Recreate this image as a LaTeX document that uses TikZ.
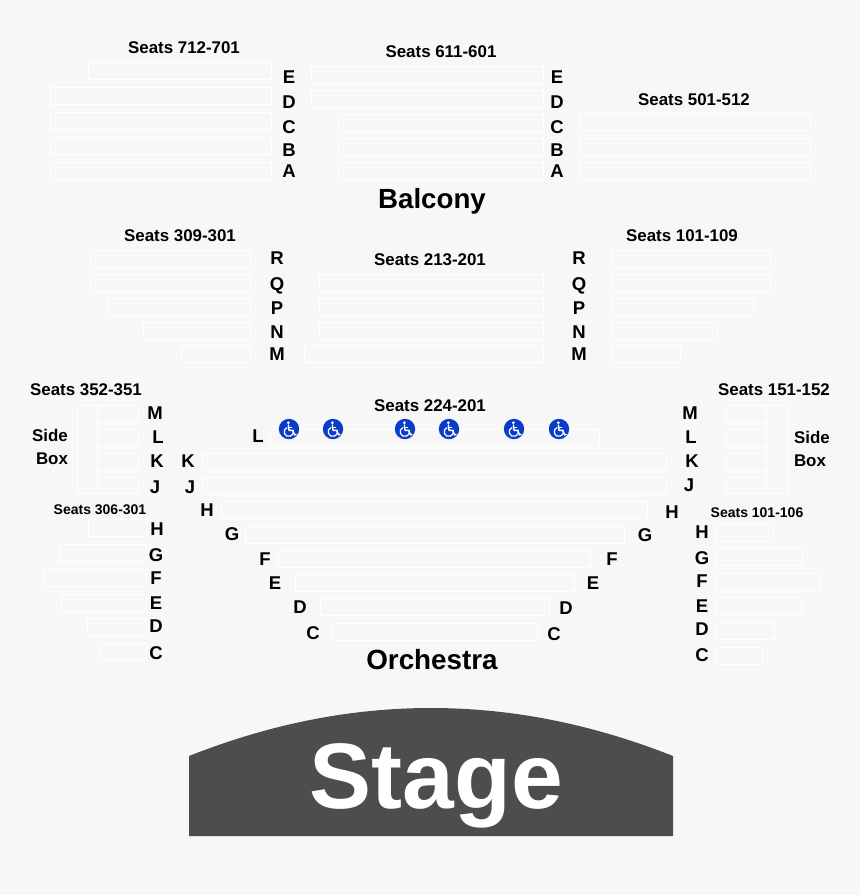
\documentclass[tikz,border=0pt]{standalone}
\usepackage{fontspec}
\setmainfont{Liberation Sans}
\definecolor{pagebg}{HTML}{F7F7F7}
\definecolor{stagegray}{HTML}{4D4D4D}
\definecolor{wcblue}{HTML}{0A3CC8}
\newcounter{lab}
\tikzset{
  seat/.style={draw=white,line width=1pt,fill=none},
  lab/.style={font=\bfseries\fontsize{#1}{#1}\selectfont,text=black,inner sep=0pt,anchor=center,
    text height=0.716*#1 pt,text depth=0pt},
  lab/.default=16.9
}
\newcommand{\rows}[1]{\foreach \a/\b/\c/\d in {#1}{\draw[seat] (\a,\b) rectangle (\c,\d);}}
\newcommand{\rl}[1]{\foreach \t/\x/\y in {#1}{\stepcounter{lab}\node[lab=18.5] (r\thelab) at (\x,\y) {\t};}}
\newcommand{\wc}[2]{\begin{scope}[shift={(#1,#2)}]
  \fill[wcblue] (0,0) circle (10.2);
  \fill[white] (-0.7,-6.3) circle (1.5);
  \draw[white,line width=1.4pt,line cap=round,line join=round] (-0.6,-4) -- (0,1.3) -- (3.8,1.3) -- (5.6,6) -- (7.1,5.3);
  \draw[white,line width=1.2pt] (-0.4,-1.3) -- (3.2,-1.3);
  \draw[white,line width=1.2pt] (-1.87,-1.52) arc[start angle=110,end angle=385,radius=4.6pt];
\end{scope}}
\begin{document}
\begin{tikzpicture}[x=1pt,y=-1pt]
\fill[pagebg] (0,0) rectangle (860,895);
% balcony
\rows{88/62/271/79,50/87/271/104,50/112/271/129,50/137/271/154,50/162/271/179,
311/66/543/83,311/90/543/107,338/114/543/132,338/138/543/156,338/162/543/180,
579/113/810/130,579/138/810/155,579/162/810/179}
% mezzanine
\rows{90/250/250/267,90/274/250/291,108/298/250/315,143/322/250/339,181/345/250/362,
319/274/543/291,319/298/543/315,319/322/543/339,304/345/543/362,
611/250/770/267,611/274/770/291,611/298/753/315,611/322/717/339,611/345/680/362}
% side boxes
\rows{77/405/97/493,97/405/138/422,97/429/138/446,97/453/138/470,97/477/138/493,
766/405/787/493,726/405/766/422,726/429/766/446,726/453/766/470,726/477/766/493}
% orchestra centre
\rows{270/429/599/446,202/453/666/470,202/477/666/494,221/501/647/518,245/526/624/543,
278/550/590/567,295/574/574/591,320/598/549/615,332/623/537/640}
% orchestra sides
\rows{88/519/146/536,59/544/146/561,43/569/146/586,61/594/146/611,87/618/146/635,100/643/146/660,
716/524/773/541,716/548/802/565,716/573/819/590,716/597/801/614,716/622/774/639,716/647/762/664}
% titles
\node[lab] (t1) at (184,47) {Seats 712-701};
\node[lab] (t2) at (441,51) {Seats 611-601};
\node[lab] (t3) at (694,99) {Seats 501-512};
\node[lab=27.7] (t4) at (432,199) {Balcony};
\node[lab] (t5) at (180,235) {Seats 309-301};
\node[lab] (t6) at (430,259) {Seats 213-201};
\node[lab] (t7) at (682,235) {Seats 101-109};
\node[lab] (t8) at (86,389) {Seats 352-351};
\node[lab] (t9) at (430,405) {Seats 224-201};
\node[lab] (t10) at (774,389) {Seats 151-152};
\node[lab] (t11) at (50,435) {Side};
\node[lab] (t12) at (52,458) {Box};
\node[lab] (t13) at (812,437) {Side};
\node[lab] (t14) at (810,460) {Box};
\node[lab=14] (t15) at (100,509) {Seats 306-301};
\node[lab=14] (t16) at (757,512) {Seats 101-106};
\node[lab=27.8] (t17) at (432,660) {Orchestra};
% row letters
\rl{E/289/77,D/289/102,C/289/127,B/289/150,A/289/171,
E/557/77,D/557/102,C/557/127,B/557/150,A/557/171,
R/277/258,Q/277/284,P/277/308,N/277/332,M/277/354,
R/579/258,Q/579/284,P/579/308,N/579/332,M/579/354,
M/155/413,L/158/437,K/157/461,J/155/487,
M/690/413,L/691/437,K/692/461,J/689/485,
L/258/436,K/188/461,J/190/487,H/207/510,G/232/534,F/265/559,E/275/583,D/300/607,C/313/633,
H/672/512,G/645/535,F/612/559,E/593/583,D/566/608,C/554/634,
H/157/529,G/156/555,F/156/578,E/156/603,D/156/626,C/156/653,
H/702/532,G/702/558,F/702/581,E/702/606,D/702/629,C/702/655}
% wheelchairs
\wc{289}{429}\wc{333}{429}\wc{405}{429}\wc{449}{429}\wc{514}{429}\wc{559}{429}
% stage
\fill[stagegray] (189,756) .. controls (270,724) and (350,708) .. (431,708)
  .. controls (512,708) and (592,724) .. (673,756) -- (673,836) -- (189,836) -- cycle;
\node[lab=93,text=white] (stagelabel) at (436.5,775.5) {Stage};
\end{tikzpicture}
\end{document}
